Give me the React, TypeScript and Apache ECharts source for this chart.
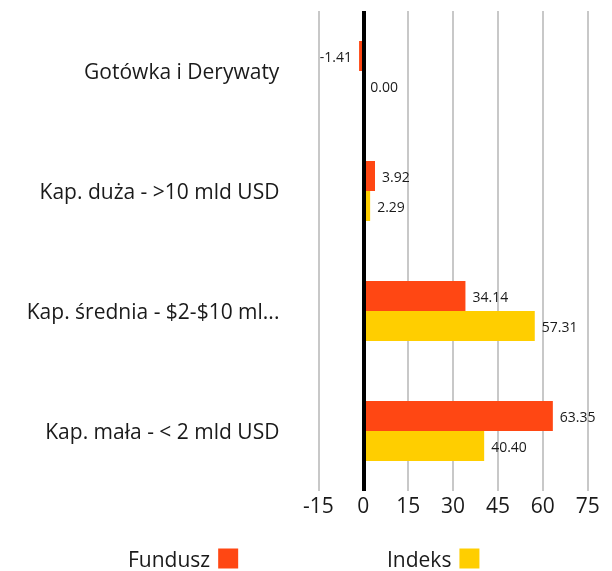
import React, { useEffect, useRef } from "react";
import * as echarts from "echarts";

const categories = [
  "Gotówka i Derywaty",
  "Kap. duża - >10 mld USD",
  "Kap. średnia - $2-$10 ml...",
  "Kap. mała - < 2 mld USD",
];
const fundusz = [-1.41, 3.92, 34.14, 63.35];
const indeks = [0.0, 2.29, 57.31, 40.4];
const seriesNames = ["Fundusz", "Indeks"];
const xMin = -15;
const xMax = 75;
const xStep = 15;

const FONT = "'Open Sans', sans-serif";
const RED = "#FF4713";
const YELLOW = "#FFCE00";
const TEXT = "#1a1a1a";

const toData = (vals: number[]) =>
  vals.map((v) => ({
    value: v,
    label: { position: v < 0 ? "left" : "right" },
  }));

export default function App() {
  const ref = useRef<HTMLDivElement>(null);
  useEffect(() => {
    if (!ref.current) return;
    const chart = echarts.init(ref.current, null, { renderer: "svg" });
    const label = {
      show: true,
      distance: 7,
      color: TEXT,
      fontSize: 14,
      fontFamily: FONT,
      formatter: (p: any) => Number(p.value).toFixed(2),
    };
    const legendBase = {
      top: 543,
      padding: 5,
      align: "right",
      icon: "rect",
      itemWidth: 20,
      itemHeight: 20,
      textStyle: {
        color: TEXT,
        fontSize: 21,
        lineHeight: 20,
        fontFamily: FONT,
        padding: [0, 3, 0, 0],
      },
    };
    chart.setOption({
      animation: false,
      grid: { left: 318.4, right: 24.3, top: 11, bottom: 80, containLabel: false },
      xAxis: {
        type: "value",
        min: xMin,
        max: xMax,
        interval: xStep,
        axisLine: { show: false },
        axisTick: { show: false },
        splitLine: { show: true, lineStyle: { color: "#c8c8c8", width: 2 } },
        axisLabel: { color: TEXT, fontSize: 21, fontFamily: FONT, margin: 3 },
      },
      yAxis: {
        type: "category",
        data: categories,
        inverse: true,
        axisLine: { show: false },
        axisTick: { show: false },
        splitLine: { show: false },
        axisLabel: { color: TEXT, fontSize: 21, fontFamily: FONT, margin: 39 },
      },
      legend: [
        { ...legendBase, data: [seriesNames[0]], left: 123 },
        { ...legendBase, data: [seriesNames[1]], left: 382 },
      ],
      series: [
        {
          name: seriesNames[0],
          type: "bar",
          data: toData(fundusz),
          itemStyle: { color: RED },
          barGap: "0%",
          barCategoryGap: "50%",
          label,
          markLine: {
            silent: true,
            symbol: "none",
            label: { show: false },
            lineStyle: { color: "#000", width: 4, type: "solid" },
            data: [{ xAxis: 0 }],
          },
          z: 3,
        },
        {
          name: seriesNames[1],
          type: "bar",
          data: toData(indeks),
          itemStyle: { color: YELLOW },
          barGap: "0%",
          barCategoryGap: "50%",
          label,
          z: 3,
        },
      ],
    });
    return () => chart.dispose();
  }, []);
  return (
    <div
      ref={ref}
      style={{ position: "fixed", left: 0, top: 0, width: 612, height: 571 }}
    />
  );
}
